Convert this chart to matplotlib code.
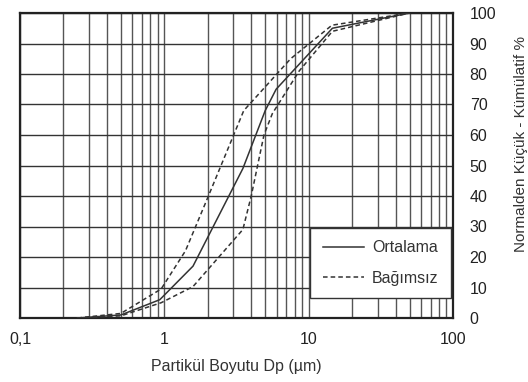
import matplotlib
matplotlib.use('Agg')
import matplotlib.pyplot as plt
from matplotlib.ticker import FixedLocator, NullFormatter

plt.rcParams['font.family'] = ['Liberation Sans', 'DejaVu Sans']

# Ortalama (solid)
ort_x = [0.25, 0.5, 0.93, 1.58, 3.5, 5.0, 5.95, 14.6, 50]
ort_y = [0, 1, 6, 17, 49, 68, 75, 95, 100]

# Bagimsiz upper bound (dashed)
ust_x = [0.25, 0.5, 0.95, 1.4, 2.0, 3.55, 7.5, 14.5, 50]
ust_y = [0, 1.5, 9.5, 22, 39.5, 68, 85, 96, 100]

# Bagimsiz lower bound (dashed)
alt_x = [0.25, 0.5, 0.95, 1.58, 3.5, 4.0, 4.9, 5.6, 8.6, 14.6, 50]
alt_y = [0, 0.7, 5, 10.3, 29, 40, 60, 67, 81, 94, 100]

x_ticks = [0.1, 1, 10, 100]
x_labels = ['0,1', '1', '10', '100']
y_ticks = list(range(0, 101, 10))

fig = plt.figure(figsize=(5.28, 3.82), dpi=100)
ax = fig.add_axes([20 / 528, 64 / 382, 433 / 528, 305 / 382])

line_col = '#333333'
ax.plot(ort_x, ort_y, color=line_col, lw=1.1, label='Ortalama', zorder=3)
ax.plot(ust_x, ust_y, color=line_col, lw=1.1, ls=(0, (3, 2)), label='Bağımsız', zorder=3)
ax.plot(alt_x, alt_y, color=line_col, lw=1.1, ls=(0, (3, 2)), zorder=3)

ax.set_xscale('log')
ax.set_xlim(0.1, 100)
ax.set_ylim(0, 100)

ax.xaxis.set_major_locator(FixedLocator(x_ticks))
ax.set_xticklabels(x_labels)
minors = [m * 10.0 ** e for e in (-1, 0, 1) for m in range(2, 10)]
ax.xaxis.set_minor_locator(FixedLocator(minors))
ax.xaxis.set_minor_formatter(NullFormatter())
ax.set_yticks(y_ticks)

ax.grid(True, which='both', axis='x', color='#555555', lw=1.0)
ax.grid(True, which='major', axis='y', color='#333333', lw=1.0)

ax.yaxis.tick_right()
ax.tick_params(axis='both', which='both', length=0, labelsize=11.5, colors='#222222')
ax.tick_params(axis='x', pad=10)
ax.tick_params(axis='y', pad=12)
for lbl in ax.get_yticklabels():
    lbl.set_horizontalalignment('left')

for s in ax.spines.values():
    s.set_color('#222222')
    s.set_linewidth(1.6)

ax.set_xlabel('Partikül Boyutu Dp (µm)', fontsize=11.5, color='#333333', labelpad=9)
fig.text(521 / 528, 1 - 144 / 382, 'Normalden Küçük - Kümülatif %', rotation=90,
         ha='center', va='center', fontsize=11, color='#333333')

leg = ax.legend(loc='lower right', bbox_to_anchor=(1.0, 0.059), fontsize=11.5,
                frameon=True, fancybox=False, edgecolor='#333333',
                handlelength=2.6, borderpad=0.8, labelspacing=0.95,
                borderaxespad=0.1, handletextpad=0.5)
leg.get_frame().set_linewidth(1.0)
leg.get_frame().set_alpha(1.0)
for t in leg.get_texts():
    t.set_color('#333333')

fig.savefig('out.png', dpi=100)
